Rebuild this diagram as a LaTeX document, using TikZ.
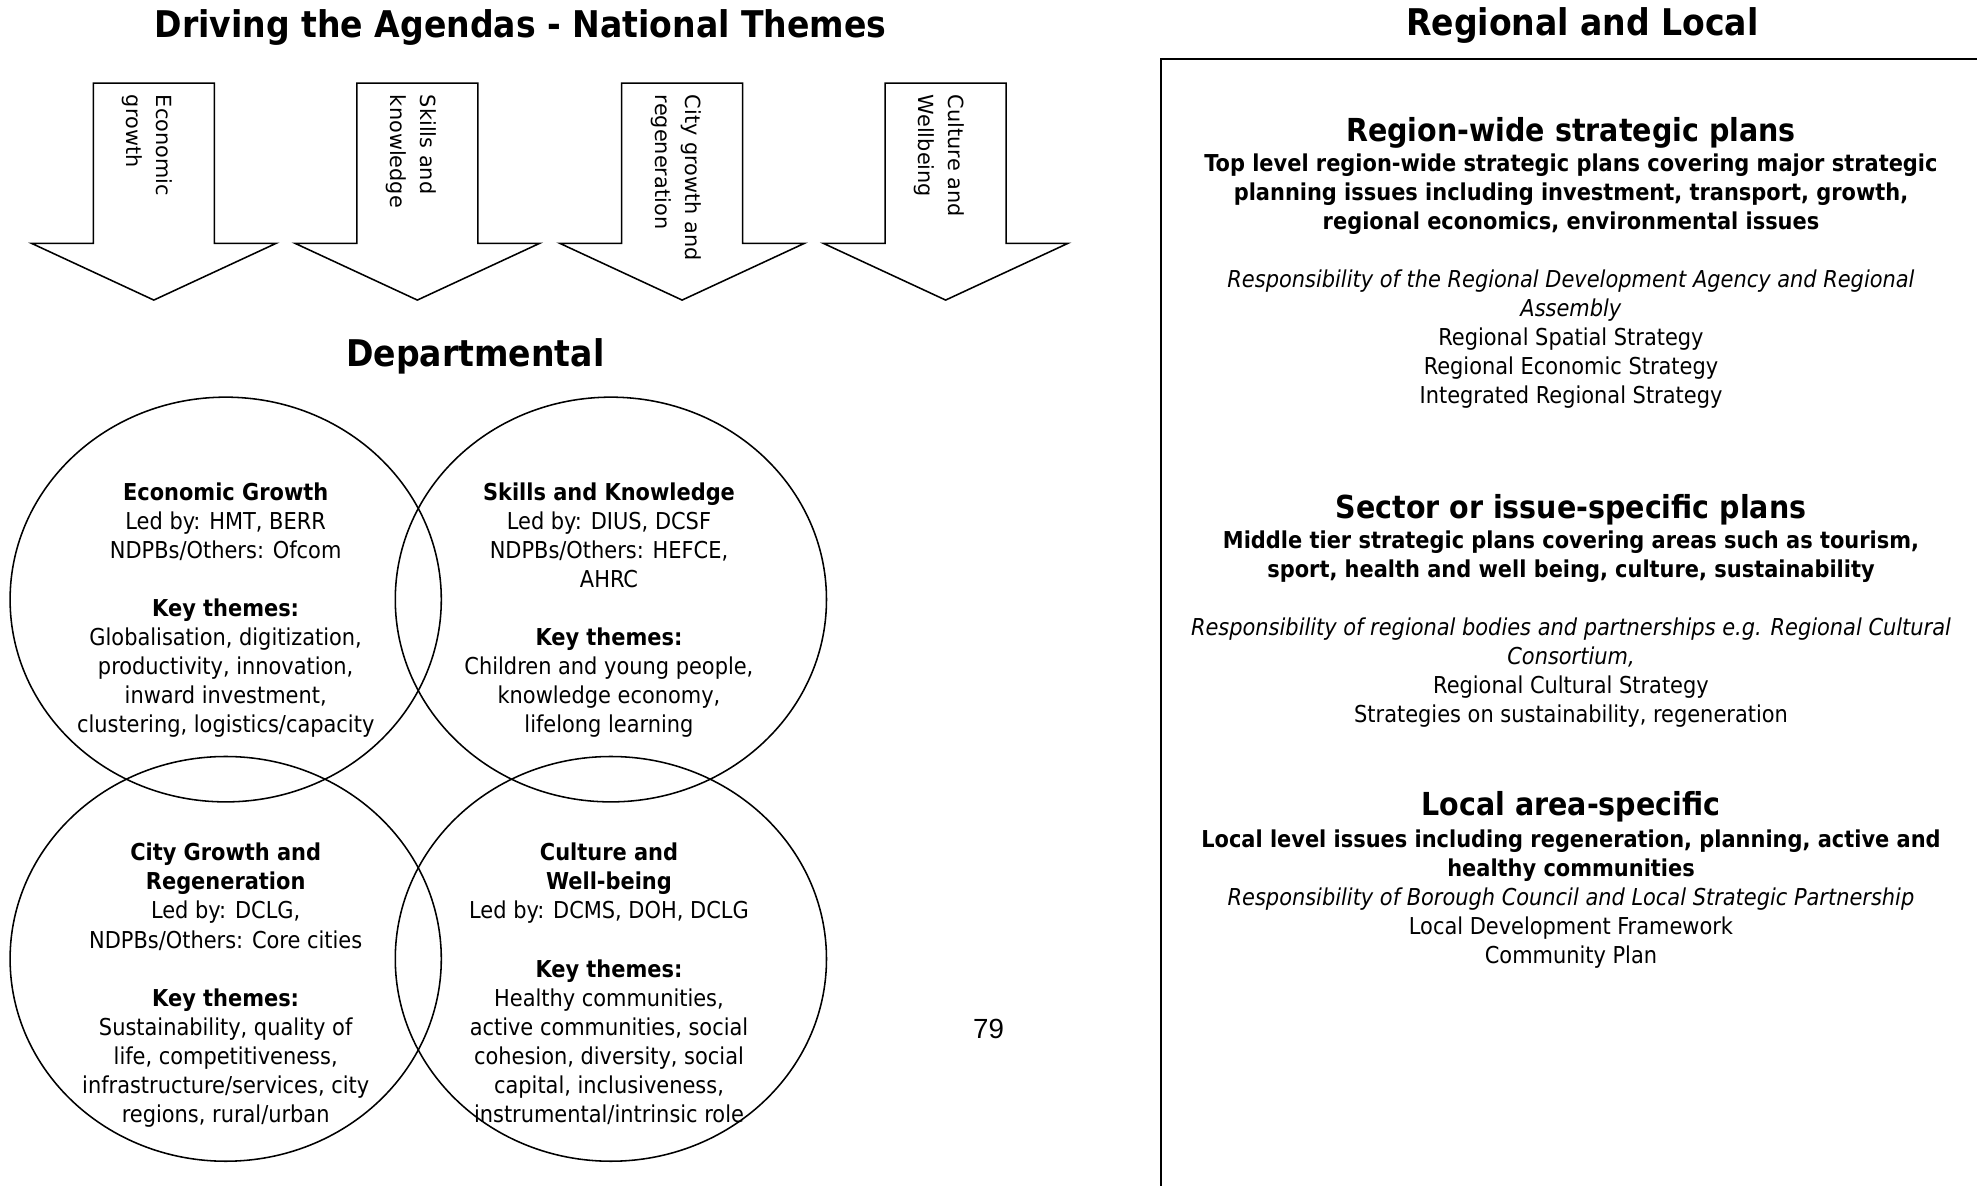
\documentclass[tikz,border=0pt]{standalone}
\usepackage{fontspec}
\setmainfont{DejaVu Sans Condensed}
\newfontfamily\arrowfont{DejaVu Sans}
\newfontfamily\pagefont{Liberation Sans}
\usetikzlibrary{shapes.geometric}

\tikzset{
	venn/.style={draw, line width=0.7pt, ellipse, minimum width=68.4mm, minimum height=64.2mm, inner sep=0pt},
	vtext/.style={align=center, anchor=base, inner sep=0pt, font=\fontsize{10.5}{13.1}\selectfont},
	heading/.style={anchor=base, inner sep=0pt, font=\fontsize{16.6}{20}\selectfont\bfseries},
	tier/.style={anchor=base, inner sep=0pt, font=\fontsize{14.3}{16}\selectfont\bfseries},
	theme/.style={rotate=-90, anchor=west, align=left, inner sep=0pt, font=\arrowfont\fontsize{9.4}{13.6}\selectfont},
}

\begin{document}
\begin{tikzpicture}[x=0.2mm, y=-0.2mm]
			%%%%% START %%%%%
			\useasboundingbox (0, 0) rectangle (1568, 940);
			
			\node[heading] (national) at (413, 30) {Driving the Agendas - National Themes};
			\node[heading] (regional) at (1255, 28) {Regional and Local};
			\node[heading] (dept) at (377, 291) {Departmental};
			
			% block arrows
			\foreach \x/\n/\t in {122/eco/{Economic\\growth}, 331/skills/{Skills and\\knowledge},
					541/city/{City growth and\\regeneration}, 750/culture/{Culture and\\Wellbeing}} {
				\draw[line width=0.7pt] (\x-48, 66) -- (\x+48, 66) -- (\x+48, 193) -- (\x+97, 193) -- (\x, 238)
					-- (\x-97, 193) -- (\x-48, 193) -- cycle;
				\node[theme] (arrow-\n) at (\x-5, 75) {\t};
			}
			
			% departmental circles, text sits on its last line
			\node[venn] (eco) at (179, 475.5) {};
			\node[venn] (skills) at (484.5, 475.5) {};
			\node[venn] (city) at (179, 760.5) {};
			\node[venn] (culture) at (484.5, 760.5) {};
			
			\node[vtext] (eco-text) at (179, 581) {\textbf{Economic Growth}\\Led by: HMT, BERR\\NDPBs/Others: Ofcom\\[4.6mm]
				\textbf{Key themes:}\\Globalisation, digitization,\\productivity, innovation,\\inward investment,\\clustering, logistics/capacity};
			\node[vtext] (skills-text) at (483, 581) {\textbf{Skills and Knowledge}\\Led by: DIUS, DCSF\\NDPBs/Others: HEFCE,\\AHRC\\[4.6mm]
				\textbf{Key themes:}\\Children and young people,\\knowledge economy,\\lifelong learning};
			\node[vtext] (city-text) at (179, 890) {\textbf{City Growth and}\\\textbf{Regeneration}\\Led by: DCLG,\\NDPBs/Others: Core cities\\[4.6mm]
				\textbf{Key themes:}\\Sustainability, quality of\\life, competitiveness,\\infrastructure/services, city\\regions, rural/urban};
			\node[vtext] (culture-text) at (483, 890) {\textbf{Culture and}\\\textbf{Well-being}\\Led by: DCMS, DOH, DCLG\\[4.6mm]
				\textbf{Key themes:}\\Healthy communities,\\active communities, social\\cohesion, diversity, social\\capital, inclusiveness,\\instrumental/intrinsic role};
			
			\node[anchor=base, inner sep=0pt, font=\pagefont\fontsize{12.5}{15}\selectfont] (page) at (784, 824) {79};
			
			% regional and local plans
			\draw[line width=0.3mm] (1580, 47) -- (921, 47) -- (921, 950);
			
			\node[tier] (wide) at (1246, 112) {Region-wide strategic plans};
			\node[vtext] (wide-text) at (1246, 320) {\textbf{Top level region-wide strategic plans covering major strategic}\\
				\textbf{planning issues including investment, transport, growth,}\\\textbf{regional economics, environmental issues}\\[4.6mm]
				\textit{Responsibility of the Regional Development Agency and Regional}\\\textit{Assembly}\\
				Regional Spatial Strategy\\Regional Economic Strategy\\Integrated Regional Strategy};
			
			\node[tier] (sector) at (1246, 411) {Sector or issue-specific plans};
			\node[vtext] (sector-text) at (1246, 573) {\textbf{Middle tier strategic plans covering areas such as tourism,}\\
				\textbf{sport, health and well being, culture, sustainability}\\[4.6mm]
				\textit{Responsibility of regional bodies and partnerships e.g. Regional Cultural}\\\textit{Consortium,}\\
				Regional Cultural Strategy\\Strategies on sustainability, regeneration};
			
			\node[tier] (local) at (1246, 647) {Local area-specific};
			\node[vtext] (local-text) at (1246, 764) {\textbf{Local level issues including regeneration, planning, active and}\\
				\textbf{healthy communities}\\\textit{Responsibility of Borough Council and Local Strategic Partnership}\\
				Local Development Framework\\Community Plan};
			%%%%% END %%%%%
\end{tikzpicture}
\end{document}
